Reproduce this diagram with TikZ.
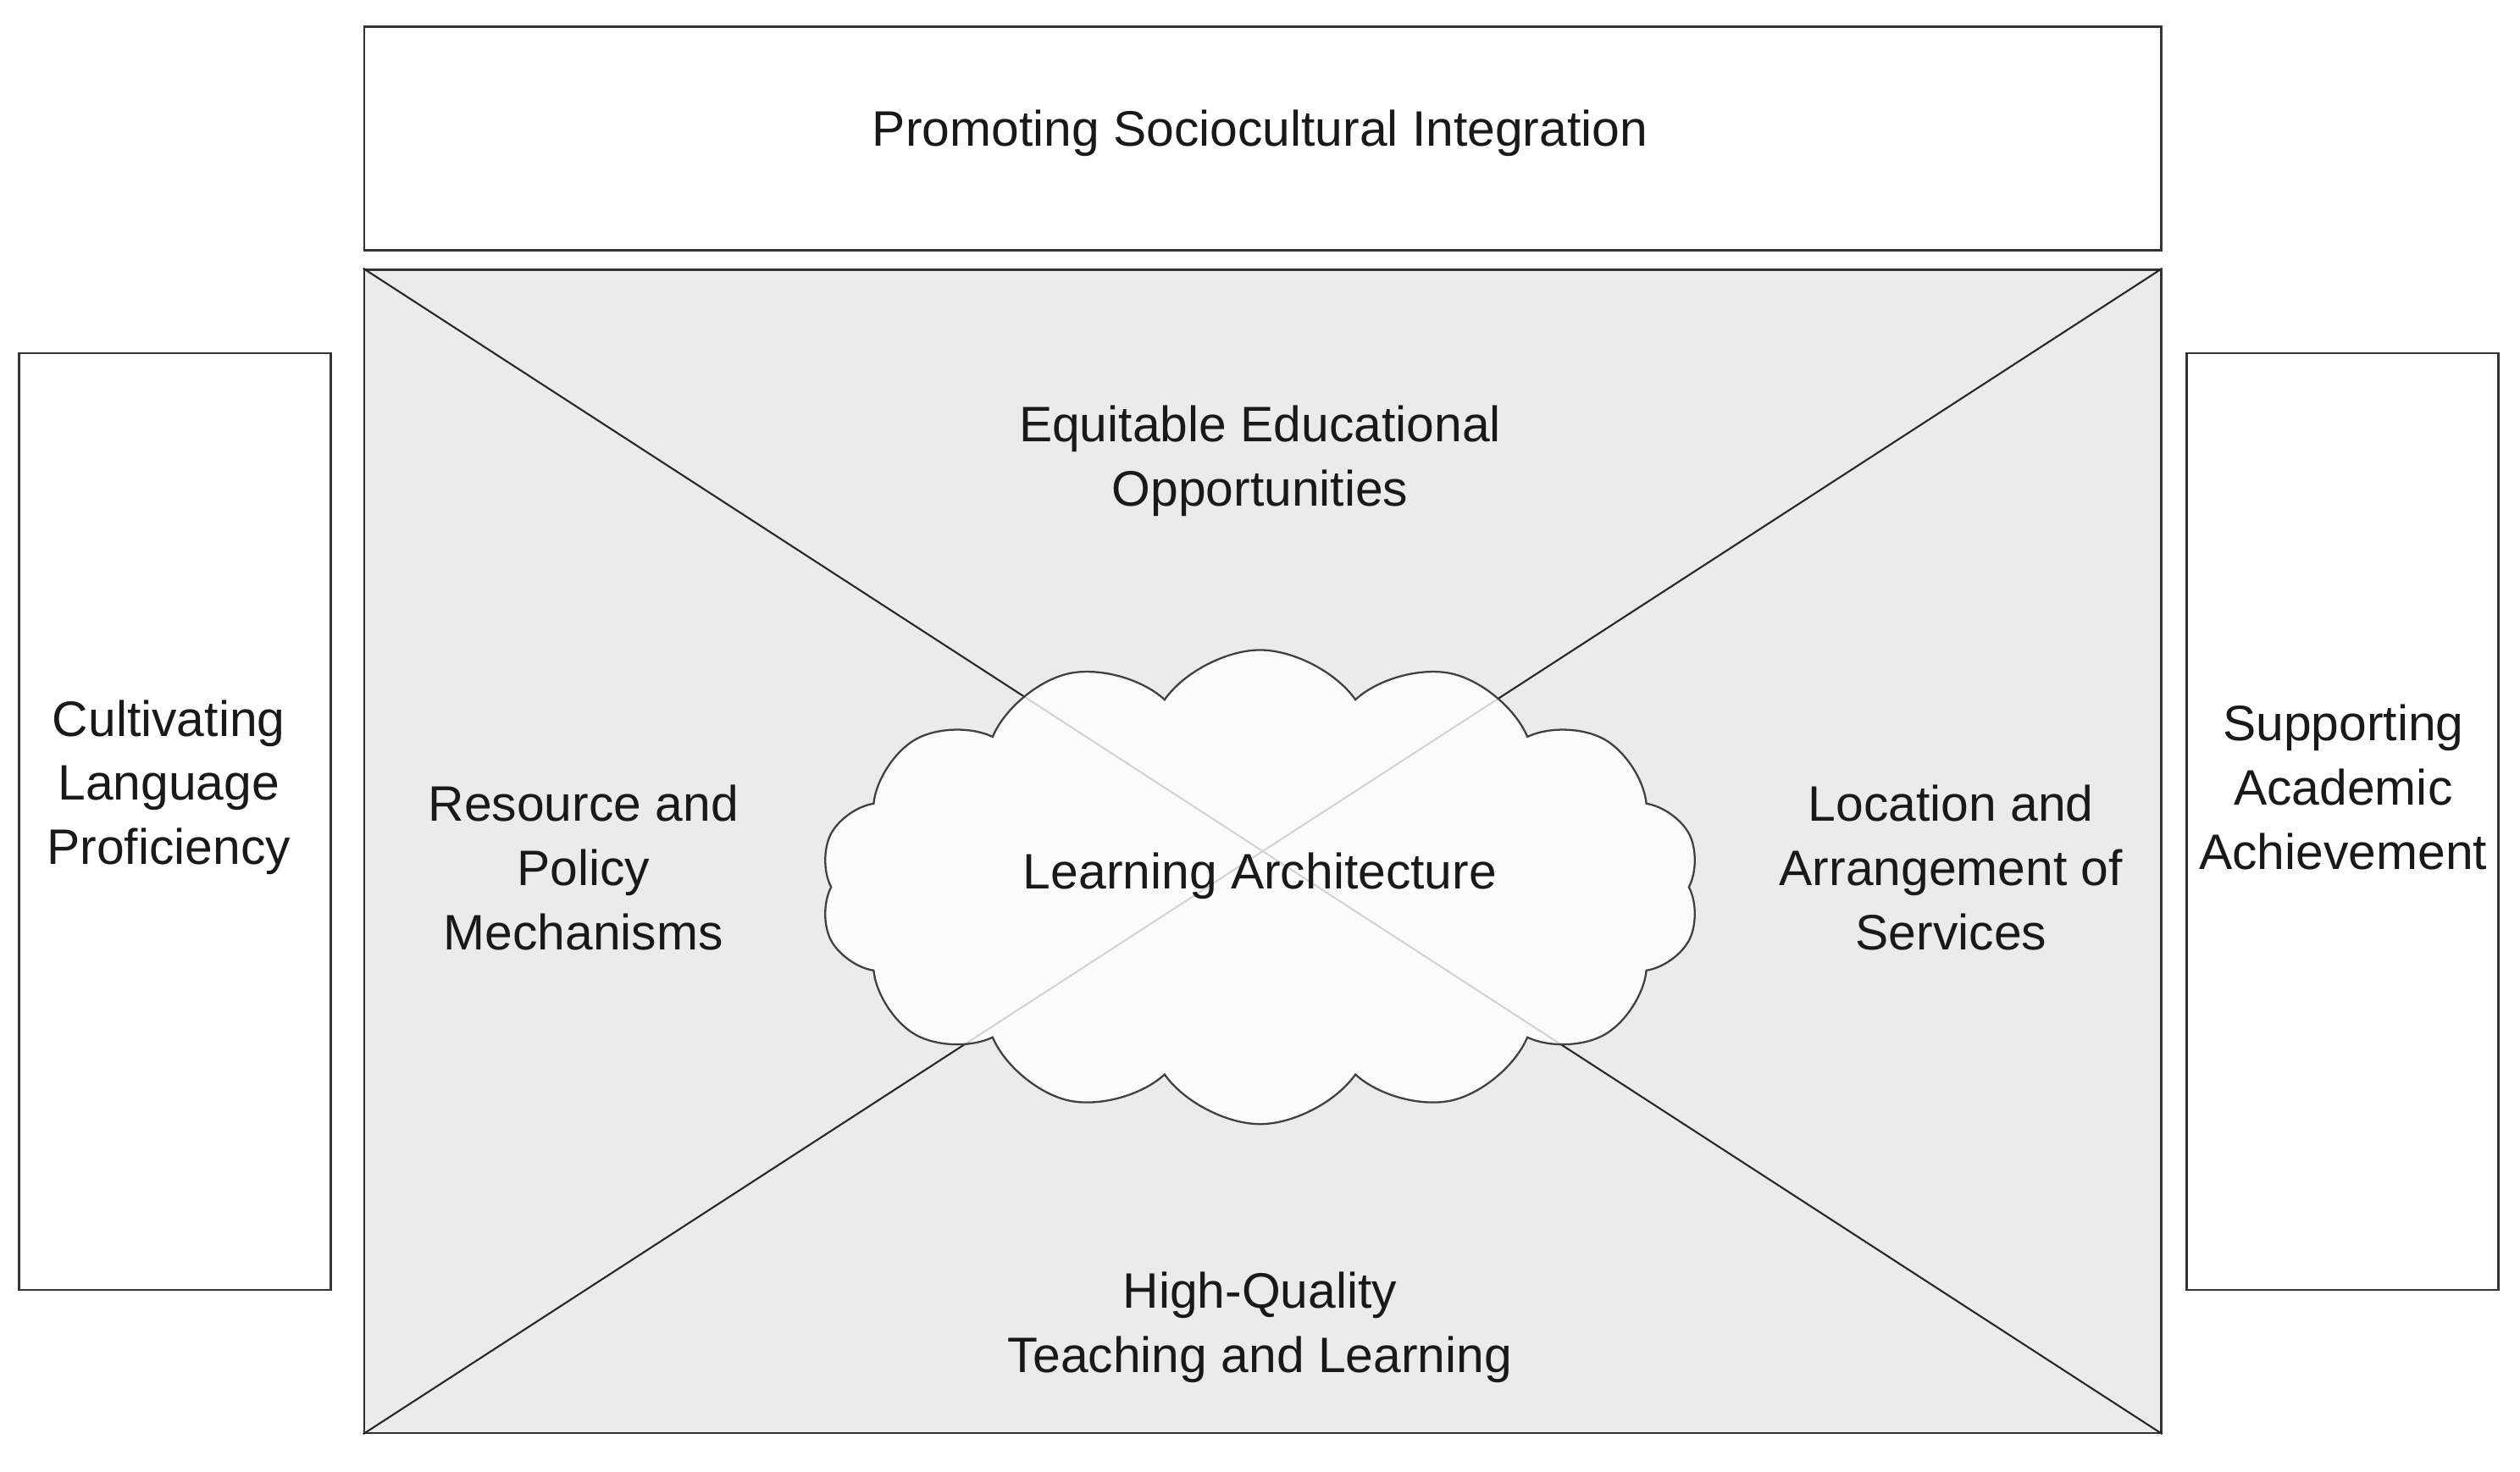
\documentclass[tikz,border=0pt]{standalone}
\usepackage{fontspec}
\setmainfont{Liberation Sans}
\usetikzlibrary{shapes.symbols}
\begin{document}
\begin{tikzpicture}[x=1pt,y=-1pt,
  box/.style={draw=black!80,line width=1.4pt,fill=white},
  lbl/.style={align=center,font=\fontsize{31}{40}\selectfont,text=black!90}]
\useasboundingbox (0,0) rectangle (1568,916);
\node[box,minimum width=1118pt,minimum height=139pt,anchor=north west] (top) at (226,16) {};
\node[lbl] (ttop) at (784,83) {Promoting Sociocultural Integration};
\node[draw=black!80,line width=1.4pt,fill=black!8,minimum width=1118pt,minimum height=724pt,anchor=north west] (main) at (226,167) {};
\draw[line width=1.1pt,black!85] (main.north west) -- (main.south east);
\draw[line width=1.1pt,black!85] (main.north east) -- (main.south west);
\node[box,minimum width=194pt,minimum height=583pt,anchor=north west] (left) at (11,219) {};
\node[box,minimum width=194pt,minimum height=583pt,anchor=north west] (right) at (1360,219) {};
\node[cloud,cloud puffs=14,cloud puff arc=110,draw=black!75,line width=1.2pt,fill=white,fill opacity=0.8,draw opacity=1,minimum width=548pt,minimum height=295pt] (cloud) at (784,552) {};
\node[lbl] (tcloud) at (784,545) {Learning Architecture};
\node[lbl] (teq) at (784,287) {Equitable Educational\\Opportunities};
\node[lbl] (tres) at (363,540) {Resource and\\Policy\\Mechanisms};
\node[lbl] (tloc) at (1214,540) {Location and\\Arrangement of\\Services};
\node[lbl] (thq) at (784,826) {High-Quality\\Teaching and Learning};
\node[lbl] (tcul) at (105,490) {Cultivating\\Language\\Proficiency};
\node[lbl] (tsup) at (1458,490) {Supporting\\Academic\\Achievement};
\end{tikzpicture}
\end{document}
